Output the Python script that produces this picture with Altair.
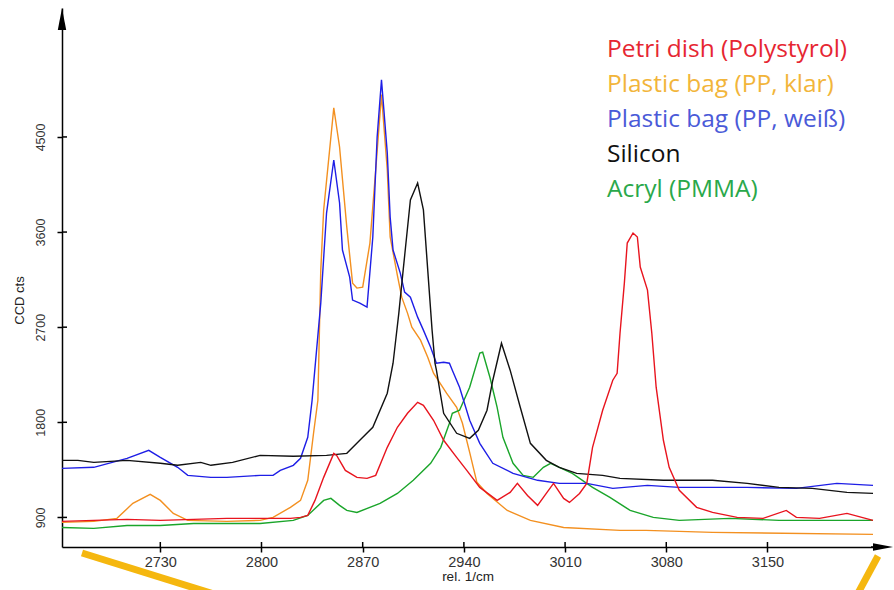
import altair as alt
import pandas as pd

# ---------------- data ----------------
series_names = ["Petri dish (Polystyrol)", "Plastic bag (PP, klar)",
                "Plastic bag (PP, weiß)", "Silicon", "Acryl (PMMA)"]
line_colors = ["#e8141e", "#f39020", "#1e1ee6", "#111111", "#1aa52a"]
label_colors = ["#e62632", "#f2b53a", "#4a5ad8", "#111111", "#2aa84a"]

petri_x = [2662, 2684, 2707, 2730, 2753, 2776, 2799, 2820, 2827, 2832, 2837, 2843,
           2850, 2852, 2858, 2866, 2873, 2879, 2887, 2894, 2901, 2908, 2912, 2919,
           2926, 2935, 2942, 2951, 2963, 2972, 2977, 2984, 2991, 2997, 3002, 3009,
           3013, 3020, 3025, 3029, 3036, 3043, 3046, 3048, 3051, 3053, 3057, 3060,
           3062, 3067, 3070, 3073, 3078, 3082, 3089, 3101, 3112, 3129, 3147, 3163,
           3170, 3186, 3205, 3223]
petri_y = [862, 872, 881, 872, 881, 891, 891, 891, 900, 919, 1061, 1279,
           1506, 1487, 1345, 1279, 1269, 1298, 1563, 1753, 1885, 1989, 1961, 1819,
           1630, 1468, 1345, 1184, 1061, 1137, 1222, 1108, 1014, 1127, 1222, 1080,
           1042, 1127, 1222, 1563, 1914, 2198, 2264, 2643, 3117, 3496, 3591, 3553,
           3269, 3051, 2643, 2132, 1630, 1374, 1156, 995, 947, 900, 891, 966,
           900, 891, 938, 872]

klar_x = [2662, 2684, 2700, 2711, 2723, 2730, 2739, 2749, 2776, 2799, 2808, 2820,
          2827, 2832, 2836, 2839, 2841, 2843, 2850, 2854, 2859, 2863, 2866, 2870,
          2875, 2879, 2883, 2887, 2889, 2894, 2897, 2901, 2904, 2910, 2915, 2919,
          2928, 2935, 2939, 2944, 2949, 2956, 2970, 2986, 3009, 3048, 3066, 3112,
          3223]
klar_y = [853, 862, 891, 1033, 1118, 1061, 938, 872, 862, 872, 900, 995,
          1061, 1251, 1696, 2008, 3240, 3809, 4775, 4405, 3647, 3117, 3070, 3079,
          3496, 4187, 4900, 4187, 3553, 3190, 2984, 2833, 2700, 2577, 2416, 2264,
          2075, 1942, 1791, 1516, 1232, 1127, 966, 872, 805, 777, 777, 758,
          739]

weiss_x = [2662, 2684, 2707, 2722, 2730, 2742, 2749, 2765, 2776, 2799, 2808, 2813,
           2822, 2827, 2832, 2835, 2841, 2845, 2850, 2854, 2856, 2861, 2863, 2868,
           2873, 2877, 2880, 2883, 2887, 2889, 2891, 2896, 2899, 2903, 2908, 2912,
           2917, 2921, 2926, 2930, 2932, 2937, 2944, 2951, 2960, 2974, 2991, 3006,
           3025, 3043, 3067, 3089, 3136, 3170, 3198, 3223]
weiss_y = [1364, 1374, 1459, 1535, 1468, 1374, 1298, 1279, 1279, 1298, 1298, 1345,
           1393, 1459, 1658, 2008, 2927, 3780, 4282, 3875, 3430, 3174, 2956, 2927,
           2890, 3553, 4500, 5040, 4349, 3742, 3430, 3212, 3032, 2984, 2795, 2672,
           2511, 2359, 2368, 2359, 2293, 2132, 1819, 1601, 1412, 1317, 1251, 1222,
           1222, 1175, 1203, 1184, 1184, 1175, 1222, 1203]

silicon_x = [2662, 2673, 2684, 2707, 2730, 2742, 2758, 2765, 2780, 2799, 2822, 2845,
             2859, 2868, 2877, 2887, 2891, 2895, 2898, 2903, 2908, 2912, 2915, 2918,
             2920, 2921, 2926, 2935, 2944, 2950, 2956, 2960, 2966, 2972, 2979, 2986,
             2997, 3006, 3018, 3036, 3048, 3078, 3112, 3136, 3158, 3181, 3205, 3223]
silicon_y = [1440, 1440, 1421, 1440, 1412, 1393, 1421, 1393, 1421, 1487, 1478, 1487,
             1506, 1630, 1753, 2075, 2359, 2833, 3240, 3903, 4064, 3809, 3240, 2672,
             2359, 2293, 1885, 1696, 1648, 1724, 1914, 2198, 2548, 2293, 1942, 1601,
             1440, 1374, 1317, 1298, 1269, 1251, 1251, 1222, 1184, 1175, 1137, 1127]

acryl_x = [2662, 2684, 2707, 2730, 2753, 2776, 2799, 2822, 2832, 2843, 2848, 2854,
           2859, 2866, 2882, 2894, 2905, 2917, 2924, 2930, 2932, 2937, 2944, 2951,
           2953, 2958, 2963, 2967, 2974, 2981, 2988, 2995, 3000, 3006, 3015, 3029,
           3041, 3055, 3071, 3089, 3124, 3158, 3193, 3223]
acryl_y = [805, 796, 824, 824, 843, 843, 843, 872, 919, 1061, 1080, 1014,
           966, 947, 1033, 1127, 1251, 1412, 1563, 1791, 1885, 1914, 2132, 2454,
           2463, 2226, 1942, 1658, 1412, 1298, 1279, 1374, 1412, 1374, 1317, 1184,
           1089, 966, 900, 872, 891, 872, 872, 872]

x_ticks = [2730, 2800, 2870, 2940, 3010, 3080, 3150]
y_ticks = [900, 1800, 2700, 3600, 4500]
x_domain = [2662, 3223]
y_domain = [620, 5720]

# ---------------- build table ----------------
all_x = [petri_x, klar_x, weiss_x, silicon_x, acryl_x]
all_y = [petri_y, klar_y, weiss_y, silicon_y, acryl_y]
draw_order = [1, 4, 2, 3, 0]  # orange, green, blue, black, red on top
rows = []
for rank, i in enumerate(draw_order):
    for k, (xv, yv) in enumerate(zip(all_x[i], all_y[i])):
        rows.append({"series": series_names[i], "wn": xv, "cts": yv,
                     "rank": rank, "k": k})
df = pd.DataFrame(rows)

W, H = 811, 539
FONT = "Liberation Sans"

xscale = alt.Scale(domain=x_domain, nice=False, zero=False)
yscale = alt.Scale(domain=y_domain, nice=False, zero=False)
x_axis = alt.Axis(values=x_ticks, title="rel. 1/cm", format="d",
                  labelFontSize=14.5, titleFontSize=13.5,
                  titleFontWeight="normal", titlePadding=1, labelPadding=3)
y_axis = alt.Axis(values=y_ticks, title="CCD cts", format="d",
                  labelAngle=-90, labelFontSize=12.5, labelPadding=10,
                  titleFontSize=13, titleFontWeight="normal", titlePadding=8,
                  titleY=292)

lines = alt.Chart(df).mark_line(strokeWidth=1.4).encode(
    x=alt.X("wn:Q", scale=xscale, axis=x_axis, title="rel. 1/cm"),
    y=alt.Y("cts:Q", scale=yscale, axis=y_axis, title="CCD cts"),
    color=alt.Color("series:N",
                    scale=alt.Scale(domain=series_names, range=line_colors),
                    legend=None),
    detail="rank:O",
    order="k:Q",
)

# inward halves of the tick marks (ticks cross the axis lines)
xt = alt.Chart(pd.DataFrame({"wn": x_ticks})).mark_rule(
    color="black", strokeWidth=1.5).encode(
    x=alt.X("wn:Q", scale=xscale, axis=x_axis, title="rel. 1/cm"),
    y=alt.value(H - 5), y2=alt.value(H))
yt = alt.Chart(pd.DataFrame({"cts": y_ticks})).mark_rule(
    color="black", strokeWidth=1.5).encode(
    y=alt.Y("cts:Q", scale=yscale, axis=y_axis, title="CCD cts"),
    x=alt.value(0), x2=alt.value(5))

one = pd.DataFrame({"a": [0]})
# arrow heads
up_arrow = alt.Chart(one).mark_point(
    shape="M0,-1L0.38,1L-0.38,1Z", filled=True, size=484, color="black",
    opacity=1).encode(x=alt.value(0), y=alt.value(11))
right_arrow = alt.Chart(one).mark_point(
    shape="M1,0L-1,0.38L-1,-0.38Z", filled=True, size=400, color="black",
    opacity=1).encode(x=alt.value(W + 10), y=alt.value(H))
x_ext = alt.Chart(one).mark_rule(color="black", strokeWidth=1.5).encode(
    x=alt.value(W - 2), x2=alt.value(W + 4), y=alt.value(H))

# decorative yellow strokes under the axis
deco_left = alt.Chart(one).mark_rule(color="#f5b70f", strokeWidth=7).encode(
    x=alt.value(20), y=alt.value(545), x2=alt.value(155), y2=alt.value(587))
deco_right = alt.Chart(one).mark_rule(color="#f5b70f", strokeWidth=7).encode(
    x=alt.value(816), y=alt.value(548), x2=alt.value(795), y2=alt.value(587))

# legend as coloured text
legend_layers = []
for i, name in enumerate(series_names):
    legend_layers.append(
        alt.Chart(one).mark_text(
            text=name, align="left", baseline="middle", font="Open Sans",
            fontSize=24.5, color=label_colors[i]).encode(
            x=alt.value(545), y=alt.value(42 + 35 * i)))

chart = alt.layer(
    lines, xt, yt, deco_left, deco_right, x_ext, up_arrow, right_arrow,
    *legend_layers
).properties(
    width=W, height=H,
    autosize=alt.AutoSizeParams(type="none"),
    padding={"left": 62, "top": 8, "right": 21, "bottom": 43},
).configure_view(stroke=None).configure_axis(
    grid=False, domainColor="black", domainWidth=1.5, tickColor="black",
    tickWidth=1.5, tickSize=5, labelFont=FONT, titleFont=FONT,
    labelColor="#333333", titleColor="#222222",
)

chart.save("out.html", embed_options={"renderer": "svg", "actions": False})
